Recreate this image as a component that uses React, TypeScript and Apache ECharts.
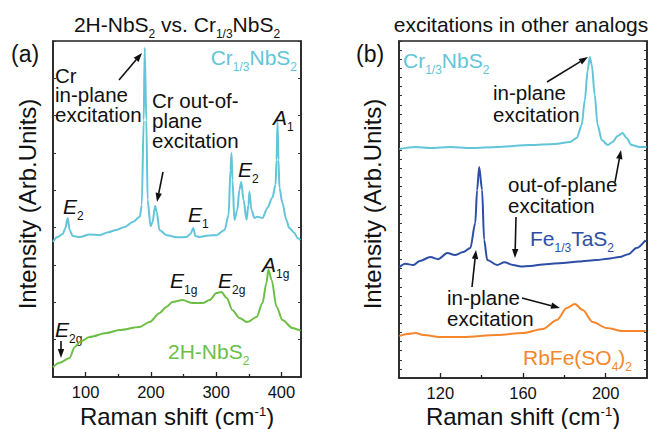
import React, { useEffect, useRef } from "react";
import * as echarts from "echarts";

// ---------- data ----------
// Panel (a): Cr1/3NbS2
const cyanAX = [50,57,65,69,72.5,75.5,80,91,106,121,135,147,160,172,183,186,189,190.5,193,195,199.5,202.5,206.5,209,213,224,240,254.5,260.5,265,268,274.5,288,300.5,313,319,322,323.5,325,328,332.5,335.5,338.5,342,346.5,349.5,351,354,358.5,363,371,378.5,386,391,392.5,394,395.5,397,401.5,407.5,412,420,424.5,429];
const cyanAY = [3.62,3.75,3.83,3.99,4.26,3.94,3.78,3.75,3.82,3.80,3.88,3.94,4.02,4.15,4.29,4.61,6.88,8.81,6.88,4.74,4.04,4.15,4.58,4.42,3.94,3.80,3.74,3.75,3.83,3.99,3.78,3.75,3.79,3.80,3.94,4.34,5.55,6.00,5.28,4.21,4.48,5.01,5.22,4.74,4.21,4.61,4.96,4.48,4.26,4.29,4.26,4.53,4.80,5.14,5.81,6.83,5.81,5.06,4.66,4.21,3.99,3.86,3.72,3.67];
// Panel (a): 2H-NbS2
const greenAX = [50,60,75.5,83,91,106,132,152,182.5,198,213,224,233,248.5,264,279,290,300.5,308,316,325,335.5,348,362,371,377,380,385,392.5,401.5,417,427.5,429];
const greenAY = [0.26,0.38,0.51,0.80,0.94,1.07,1.18,1.26,1.34,1.47,1.71,1.88,2.01,2.06,1.98,1.98,2.06,2.25,2.28,2.12,1.79,1.58,1.47,1.61,1.98,2.52,2.87,2.60,1.88,1.53,1.31,1.26,1.23];
// Panel (b): Cr1/3NbS2
const cyanBX = [100.2,108,115.2,124.8,134.5,147.5,163.4,175.4,182.7,186,188.4,189.9,191.3,192.3,193.3,194.7,196.1,198.1,201,203.4,205.8,208.2,210.1,212.5,216.4,219.8];
const cyanBY = [25.14,25.36,25.25,25.36,25.25,25.36,25.58,25.69,25.91,26.34,27.77,30.52,33.81,35.24,34.36,31.07,27.77,26.13,25.58,25.91,26.56,26.89,26.34,25.58,25.36,25.36];
// Panel (b): Fe1/3TaS2
const navyBX = [100.2,103,107,110,115.2,119,123.4,127,131.1,134.5,136.9,137.8,138.8,140.2,141.2,142.7,147.5,151,155.2,159,163.4,171,179.3,187,195.7,201,206.7,211,214.9,219.3];
const navyBY = [12.18,12.55,12.40,12.85,13.28,13.05,13.72,13.50,13.83,14.27,17.01,20.64,23.16,20.64,15.15,12.95,12.40,12.70,12.40,12.25,12.29,12.50,12.62,12.80,12.95,13.10,13.28,13.60,14.27,15.15];
// Panel (b): RbFe(SO4)2
const orangeBX = [100.2,104.1,108,111.8,120,131.1,147.5,160,169.6,176.4,181.2,185.1,188.9,193.7,200.5,208.2,219.3];
const orangeBY = [4.61,4.83,4.94,4.72,4.50,4.50,4.72,4.94,5.38,6.37,7.68,8.12,7.46,6.15,5.49,5.16,5.16];

const ticksAMajor = [100, 200, 300, 400];
const ticksAMinor = [150, 250, 350];
const ticksBMajor = [120, 160, 200];
const ticksBMinor = [140, 180];

const C_CYAN = "#62c5d9";
const C_GREEN = "#6cbf45";
const C_NAVY = "#2d4ea6";
const C_ORANGE = "#f5862c";
const FONT = "'Liberation Sans', Arial, Helvetica, sans-serif";
const INK = "#111";

const zip = (xs: number[], ys: number[]) => xs.map((x, i) => [x, ys[i]]);

// multi-line plain text, positioned by first baseline
function M(x: number, b: number, text: string, o: any = {}) {
  const size = o.size ?? 20.5;
  const lh = o.lh ?? 20;
  return {
    type: "text",
    x,
    y: b - lh / 2 - 0.35 * size,
    silent: true,
    style: {
      text,
      fill: o.color ?? INK,
      fontSize: size,
      lineHeight: lh,
      fontFamily: FONT,
      align: o.align ?? "left",
      verticalAlign: "top",
    },
  };
}

// rich text with subscripts / superscripts, positioned by baseline
function R(x: number, b: number, text: string, o: any = {}) {
  const size = o.size ?? 21;
  const sub = o.sub ?? 12;
  const color = o.color ?? INK;
  return {
    type: "text",
    x,
    y: b - 0.85 * size,
    silent: true,
    style: {
      text,
      fill: color,
      fontSize: size,
      fontFamily: FONT,
      align: o.align ?? "left",
      verticalAlign: "top",
      rich: {
        m: { fontSize: size, lineHeight: size, verticalAlign: "top", fill: color, fontFamily: FONT },
        i: { fontSize: size, lineHeight: size, verticalAlign: "top", fill: color, fontFamily: FONT, fontStyle: "italic" },
        s: {
          fontSize: sub,
          lineHeight: sub,
          verticalAlign: "top",
          padding: [0.85 * size + 2.5 - sub / 2, 0, 0, 0],
          fill: color,
          fontFamily: FONT,
        },
        u: { fontSize: sub, lineHeight: sub, verticalAlign: "top", padding: [0, 0, 0, 0], fill: color, fontFamily: FONT },
      },
    },
  };
}

function arrow(x1: number, y1: number, x2: number, y2: number) {
  const a = Math.atan2(y2 - y1, x2 - x1);
  const L = 9, W = 3.2;
  const bx = x2 - L * Math.cos(a), by = y2 - L * Math.sin(a);
  const px = -Math.sin(a) * W, py = Math.cos(a) * W;
  return [
    { type: "line", silent: true, shape: { x1, y1, x2: bx, y2: by }, style: { stroke: INK, lineWidth: 1.6 } },
    {
      type: "polygon",
      silent: true,
      shape: { points: [[x2, y2], [bx + px, by + py], [bx - px, by - py]] },
      style: { fill: INK },
    },
  ];
}

export default function App() {
  const ref = useRef<HTMLDivElement>(null);
  useEffect(() => {
    if (!ref.current) return;
    const chart = echarts.init(ref.current, null, { renderer: "svg" });
    const axisLine = { show: true, lineStyle: { color: "#222", width: 1.5 } };
    const xMajor = (grid: number, min: number, max: number, vals: number[]) => ({
      type: "value", gridIndex: grid, min, max, position: "bottom",
      axisLine,
      axisTick: { show: true, inside: true, length: 5, customValues: vals, lineStyle: { color: "#222", width: 1.3 } },
      axisLabel: { show: true, customValues: vals, fontSize: 16.5, color: INK, fontFamily: FONT, margin: 6 },
      splitLine: { show: false },
    });
    const xMinor = (grid: number, min: number, max: number, vals: number[]) => ({
      type: "value", gridIndex: grid, min, max, position: "bottom",
      axisLine: { show: false },
      axisTick: { show: true, inside: true, length: 3, customValues: vals, lineStyle: { color: "#222", width: 1.3 } },
      axisLabel: { show: false },
      splitLine: { show: false },
    });
    const yAx = (grid: number, max: number, pos: string) => ({
      type: "value", gridIndex: grid, min: 0, max, interval: 1, position: pos,
      axisLine,
      axisTick: { show: true, inside: true, length: 3, lineStyle: { color: "#333", width: 1 } },
      axisLabel: { show: false },
      splitLine: { show: false },
    });
    const line = (name: string, data: number[][], color: string, xi: number, yi: number) => ({
      type: "line", name, data, xAxisIndex: xi, yAxisIndex: yi,
      showSymbol: false, smooth: 0.3, smoothMonotone: "x",
      lineStyle: { color, width: 2 },
      silent: true,
    });

    const yTitle = (x: number) => ({
      type: "text", x, y: 204, rotation: Math.PI / 2, silent: true,
      style: { text: "Intensity (Arb.Units)", fill: INK, fontSize: 24, fontFamily: FONT, align: "center", verticalAlign: "middle" },
    });

    const graphics: any[] = [
      R(177, 31.5, "{m|2H-NbS}{s|2}{m| vs. Cr}{s|1/3}{m|NbS}{s|2}", { size: 21, sub: 12, align: "center" }),
      R(521, 31.5, "{m|excitations in other analogs}", { size: 21, align: "center" }),
      R(11, 62, "{m|(a)}", { size: 23 }),
      R(356, 62, "{m|(b)}", { size: 23 }),
      // axis titles
      yTitle(27),
      yTitle(372),
      R(177, 425, "{m|Raman shift (cm}{u|-1}{m|)}", { size: 24, sub: 13, align: "center" }),
      R(523, 425, "{m|Raman shift (cm}{u|-1}{m|)}", { size: 24, sub: 13, align: "center" }),
      // panel (a)
      R(297, 65, "{m|Cr}{s|1/3}{m|NbS}{s|2}", { size: 21, sub: 12, color: C_CYAN, align: "right" }),
      M(55, 82.5, "Cr\nin-plane\nexcitation", { lh: 19.5 }),
      M(152, 107.5, "Cr out-of-\nplane\nexcitation", { lh: 20.3 }),
      R(63, 214, "{i|E}{s|2}", { size: 21, sub: 12 }),
      R(188, 221.5, "{i|E}{s|1}", { size: 21, sub: 12 }),
      R(238, 176.5, "{i|E}{s|2}", { size: 21, sub: 12 }),
      R(273, 125, "{i|A}{s|1}", { size: 21, sub: 12 }),
      R(262, 271.5, "{i|A}{s|1g}", { size: 21, sub: 12 }),
      R(170, 288, "{i|E}{s|1g}", { size: 21, sub: 12 }),
      R(218, 288, "{i|E}{s|2g}", { size: 21, sub: 12 }),
      R(55, 336.5, "{i|E}{s|2g}", { size: 21, sub: 12 }),
      R(168, 359, "{m|2H-NbS}{s|2}", { size: 21, sub: 12, color: C_GREEN }),
      ...arrow(119, 80, 142, 53),
      ...arrow(163, 172, 157, 202),
      ...arrow(61, 341, 61, 358),
      // panel (b)
      R(403, 68, "{m|Cr}{s|1/3}{m|NbS}{s|2}", { size: 21, sub: 12, color: C_CYAN }),
      M(493, 100, "in-plane\nexcitation", { lh: 21.5 }),
      M(508, 191.5, "out-of-plane\nexcitation", { lh: 21.5 }),
      R(530, 246, "{m|Fe}{s|1/3}{m|TaS}{s|2}", { size: 21, sub: 12, color: C_NAVY }),
      M(447, 305, "in-plane\nexcitation", { lh: 21 }),
      R(523, 365, "{m|RbFe(SO}{s|4}{m|)}{s|2}", { size: 21, sub: 12, color: C_ORANGE }),
      ...arrow(547, 82, 588, 57),
      ...arrow(615, 182, 621, 150),
      ...arrow(516, 217, 515, 258),
      ...arrow(472, 287, 476, 250),
      ...arrow(522, 298, 560, 308),
    ];

    chart.setOption({
      animation: false,
      backgroundColor: "#fff",
      grid: [
        { left: 53, top: 41, width: 248, height: 336, show: true, borderColor: "#222", borderWidth: 1.5, backgroundColor: "transparent" },
        { left: 399, top: 41, width: 248, height: 337, show: true, borderColor: "#222", borderWidth: 1.5, backgroundColor: "transparent" },
      ],
      xAxis: [
        xMajor(0, 50, 430, ticksAMajor),
        xMinor(0, 50, 430, ticksAMinor),
        xMajor(1, 100, 220, ticksBMajor),
        xMinor(1, 100, 220, ticksBMinor),
      ],
      yAxis: [yAx(0, 9, "left"), yAx(0, 9, "right"), yAx(1, 37, "left"), yAx(1, 37, "right")],
      series: [
        line("Cr1/3NbS2 (a)", zip(cyanAX, cyanAY), C_CYAN, 0, 0),
        line("2H-NbS2", zip(greenAX, greenAY), C_GREEN, 0, 0),
        line("Cr1/3NbS2 (b)", zip(cyanBX, cyanBY), C_CYAN, 2, 2),
        line("Fe1/3TaS2", zip(navyBX, navyBY), C_NAVY, 2, 2),
        line("RbFe(SO4)2", zip(orangeBX, orangeBY), C_ORANGE, 2, 2),
      ],
      graphic: graphics,
    });
    return () => chart.dispose();
  }, []);
  return (
    <div
      ref={ref}
      style={{ position: "fixed", left: 0, top: 0, width: 653, height: 429, background: "#fff" }}
    />
  );
}
